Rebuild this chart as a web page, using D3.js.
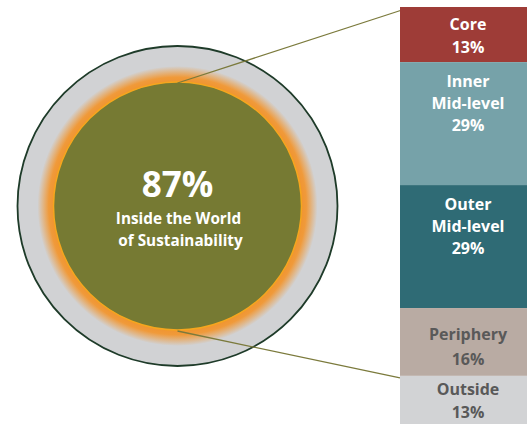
<!DOCTYPE html>
<html>
<head>
<meta charset="utf-8">
<script src="https://cdn.jsdelivr.net/npm/d3@7"></script>
<style>
  body { margin: 0; background: #fff; }
  svg { display: block; font-family: "Open Sans", Lato, sans-serif; font-weight: bold; }
</style>
</head>
<body>
<div id="chart"></div>
<script>
// segments of the stacked bar
const labels = [["Core"], ["Inner", "Mid-level"], ["Outer", "Mid-level"], ["Periphery"], ["Outside"]];
const values = [13, 29, 29, 16, 13];
const colors = ["#9e3c37", "#76a2a9", "#2f6b75", "#b9aba3", "#d2d3d5"];
const textColors = ["#fff", "#fff", "#fff", "#595959", "#595959"];
const insideShare = 87;
const insideLabel = ["Inside the World", "of Sustainability"];

const width = 527, height = 424;
const svg = d3.select("#chart").append("svg")
  .attr("width", width).attr("height", height);

// bar scale, 0..100%
const y = d3.scaleLinear().domain([0, 100]).range([7, 431]);
const barX = 400, barW = 127;

let stacked = [];
let acc = 0;
values.forEach((v, i) => { stacked.push({ i: i, y0: acc, y1: acc + v }); acc += v; });

// circle
const cx = 177.5, cy = 206, rOuter = 160, rInner = 124;

const defs = svg.append("defs");
const grad = defs.append("radialGradient").attr("id", "glow")
  .attr("cx", cx).attr("cy", cy).attr("r", 140).attr("gradientUnits", "userSpaceOnUse");
grad.append("stop").attr("offset", 0.87).attr("stop-color", "#f0922c");
grad.append("stop").attr("offset", 0.92).attr("stop-color", "#f09a3a");
grad.append("stop").attr("offset", 1).attr("stop-color", "#d1d2d4");

svg.append("circle").attr("cx", cx).attr("cy", cy).attr("r", rOuter)
  .attr("fill", "#d1d2d4").attr("stroke", "#1e3b29").attr("stroke-width", 1.8);
svg.append("circle").attr("cx", cx).attr("cy", cy).attr("r", 140)
  .attr("fill", "url(#glow)");
svg.append("circle").attr("cx", cx).attr("cy", cy).attr("r", rInner)
  .attr("fill", "#767a33").attr("stroke", "#f5a61e").attr("stroke-width", 1.5);

// connector lines from inside circle to the 87% part of the bar
svg.append("line")
  .attr("x1", cx).attr("y1", cy - rInner + 1).attr("x2", barX + 2).attr("y2", y(0) + 3)
  .attr("stroke", "#7b7a3c").attr("stroke-width", 1.3);
svg.append("line")
  .attr("x1", cx).attr("y1", cy + rInner + 1).attr("x2", barX).attr("y2", y(insideShare) + 2)
  .attr("stroke", "#7b7a3c").attr("stroke-width", 1.3);

// bars
svg.selectAll("rect.seg").data(stacked).enter().append("rect")
  .attr("class", "seg")
  .attr("x", barX).attr("width", barW)
  .attr("y", d => y(d.y0)).attr("height", d => y(d.y1) - y(d.y0))
  .attr("fill", d => colors[d.i]);

// bar labels
const topPad = [22.5, 25, 24.5, 32, 19.5];
const lineH = [23, 22, 22, 24.5, 23];
stacked.forEach(d => {
  const lines = labels[d.i].concat([values[d.i] + "%"]);
  const t = svg.append("text")
    .attr("x", 468).attr("text-anchor", "middle")
    .attr("font-size", 16).attr("fill", textColors[d.i]);
  lines.forEach((l, k) => {
    t.append("tspan").attr("x", 468)
      .attr("y", y(d.y0) + topPad[d.i] + k * lineH[d.i])
      .text(l);
  });
});

// centre text
svg.append("text").attr("x", cx).attr("y", 197).attr("text-anchor", "middle")
  .attr("font-size", 35).attr("fill", "#fff").text(insideShare + "%");
svg.append("text").attr("x", cx + 1).attr("y", 224).attr("text-anchor", "middle")
  .attr("font-size", 15.3).attr("fill", "#fff").text(insideLabel[0]);
svg.append("text").attr("x", cx + 3).attr("y", 246).attr("text-anchor", "middle")
  .attr("font-size", 15.3).attr("fill", "#fff").text(insideLabel[1]);
</script>
</body>
</html>
